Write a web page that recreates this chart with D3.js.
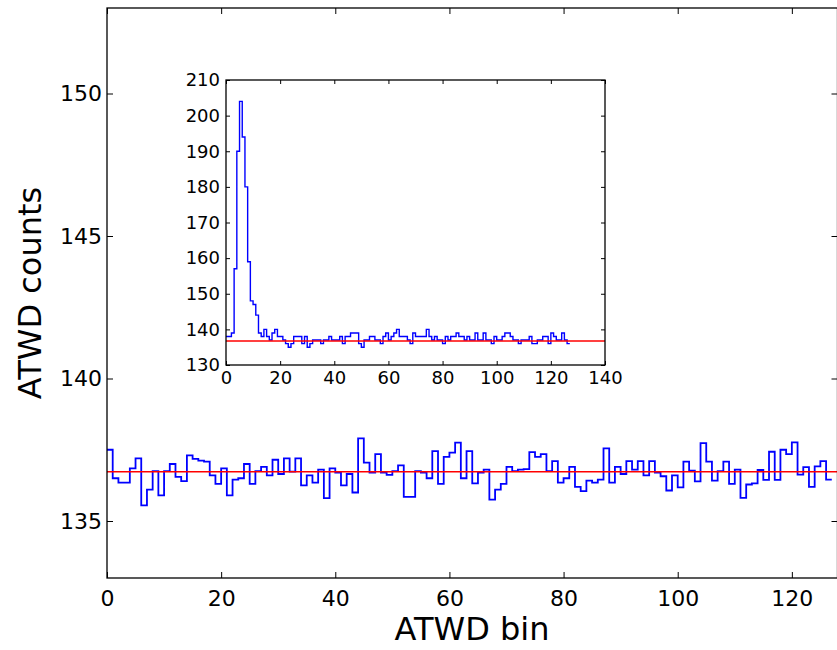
<!DOCTYPE html>
<html>
<head>
<meta charset="utf-8">
<script src="https://cdn.jsdelivr.net/npm/d3@7"></script>
<style>
  body { margin: 0; background: #fff; }
  svg { display: block; font-family: "DejaVu Sans", sans-serif; }
</style>
</head>
<body>
<div id="chart"></div>
<script>
// Moyenne des échantillons ATWD par bin (graphique principal)
const mainCounts = [
  137.5, 136.5, 136.35, 136.35, 136.85, 137.2, 135.55, 136.1, 136.75, 135.9,
  136.75, 137.0, 136.55, 136.4, 137.3, 137.18, 137.12, 137.08, 136.6, 136.3,
  136.85, 135.9, 136.45, 136.5, 137.0, 136.3, 136.75, 136.9, 136.6, 137.15,
  136.65, 137.2, 136.73, 137.2, 136.25, 136.6, 136.35, 136.8, 135.8, 136.85,
  136.7, 136.25, 136.65, 136.0, 137.9, 137.05, 136.7, 137.35, 136.7, 136.62,
  136.75, 136.95, 135.85, 135.85, 136.75, 136.7, 136.5, 137.45, 136.3, 137.25,
  137.4, 137.75, 136.5, 137.45, 136.32, 136.7, 136.8, 135.75, 136.1, 136.3,
  136.9, 136.75, 136.8, 136.82, 137.42, 137.25, 137.35, 136.75, 137.1, 136.35,
  136.5, 136.9, 136.2, 136.05, 136.42, 136.35, 136.45, 137.55, 136.35, 136.9,
  136.65, 137.1, 136.8, 137.1, 136.6, 137.1, 136.7, 136.57, 136.07, 136.6,
  136.18, 137.08, 136.77, 136.39, 137.73, 137.08, 136.42, 136.75, 137.08, 136.3,
  136.8, 135.81, 136.28, 136.32, 136.79, 136.44, 137.43, 136.44, 137.5, 137.35,
  137.76, 136.63, 136.89, 136.2, 136.92, 137.1, 136.45, 136.45
];

// Forme d'onde individuelle (encart)
const insetCounts = [
  138, 138, 139, 157, 190, 204, 194, 180, 159, 148,
  147, 144, 139, 138, 140, 138, 137, 139, 140, 138,
  138, 137, 136, 135, 136, 138, 138, 138, 136, 138,
  135, 136, 137, 137, 137, 136, 137, 137, 138, 137,
  137, 137, 138, 136, 138, 138, 139, 139, 139, 136,
  135, 137, 137, 138, 138, 137, 137, 136, 138, 139,
  137, 138, 139, 140, 138, 138, 138, 137, 136, 139,
  138, 138, 138, 138, 140, 138, 137, 138, 137, 137,
  136, 138, 137, 138, 138, 139, 138, 138, 137, 138,
  137, 137, 139, 137, 137, 139, 137, 137, 136, 138,
  137, 137, 138, 139, 139, 138, 137, 137, 136, 137,
  137, 137, 138, 136, 136, 137, 137, 138, 138, 136,
  139, 138, 137, 137, 139, 137, 136, 136
];

const baseline = 136.73;

const mainYTicks = [135, 140, 145, 150];
const mainXTicks = [0, 20, 40, 60, 80, 100, 120];
const insetYTicks = [130, 140, 150, 160, 170, 180, 190, 200, 210];
const insetXTicks = [0, 20, 40, 60, 80, 100, 120, 140];

const W = 837, H = 650;

const svg = d3.select("#chart")
    .append("svg")
    .attr("width", W)
    .attr("height", H);

// axes style matplotlib classique : graduations vers l'intérieur sur les 4 côtés
function drawFrame(g, x, y, xTicks, yTicks, fontSize, tickLen, padX, padY) {
    const [x0, x1] = x.range();
    const [y0, y1] = y.range(); // y0 = bas, y1 = haut

    g.append("g")
        .attr("transform", `translate(0,${y0})`)
        .call(d3.axisBottom(x).tickValues(xTicks).tickSizeInner(-tickLen).tickSizeOuter(0).tickPadding(padX))
        .call(a => a.select(".domain").remove());
    g.append("g")
        .attr("transform", `translate(0,${y1})`)
        .call(d3.axisTop(x).tickValues(xTicks).tickSizeInner(-tickLen).tickSizeOuter(0).tickFormat(""))
        .call(a => a.select(".domain").remove());
    g.append("g")
        .attr("transform", `translate(${x0},0)`)
        .call(d3.axisLeft(y).tickValues(yTicks).tickSizeInner(-tickLen).tickSizeOuter(0).tickPadding(padY))
        .call(a => a.select(".domain").remove());
    g.append("g")
        .attr("transform", `translate(${x1},0)`)
        .call(d3.axisRight(y).tickValues(yTicks).tickSizeInner(-tickLen).tickSizeOuter(0).tickFormat(""))
        .call(a => a.select(".domain").remove());

    g.selectAll(".tick line").attr("stroke", "#000").attr("stroke-width", 1);
    g.selectAll(".tick text")
        .attr("fill", "#000")
        .style("font-family", "'DejaVu Sans', sans-serif")
        .style("font-size", fontSize + "px");

    g.append("rect")
        .attr("x", x0).attr("y", y1)
        .attr("width", x1 - x0).attr("height", y0 - y1)
        .attr("fill", "none")
        .attr("stroke", "#000")
        .attr("stroke-width", 1.3);
}

// --- graphique principal ---
const x = d3.scaleLinear().domain([0, 128]).range([107, 837.5]);
const y = d3.scaleLinear().domain([133, 153]).range([578, 8]);

const idx = d3.range(mainCounts.length);

const mainLine = d3.line()
    .x(i => x(i))
    .y(i => y(mainCounts[i]))
    .curve(d3.curveStepAfter);

const main = svg.append("g");

main.append("path")
    .datum(idx)
    .attr("d", mainLine)
    .attr("fill", "none")
    .attr("stroke", "#0000ff")
    .attr("stroke-width", 1.8);

main.append("line")
    .attr("x1", x(0)).attr("x2", x(128))
    .attr("y1", y(baseline)).attr("y2", y(baseline))
    .attr("stroke", "#ff0000")
    .attr("stroke-width", 1.5);

drawFrame(main, x, y, mainXTicks, mainYTicks, 22, 6, 12, 5);

main.append("text")
    .attr("x", (107 + 837) / 2)
    .attr("y", 640)
    .attr("text-anchor", "middle")
    .style("font-size", "32px")
    .text("ATWD bin");

main.append("text")
    .attr("transform", `translate(41,${(8 + 578) / 2}) rotate(-90)`)
    .attr("text-anchor", "middle")
    .style("font-size", "32px")
    .text("ATWD counts");

// --- encart ---
const xi = d3.scaleLinear().domain([0, 140]).range([226, 605]);
const yi = d3.scaleLinear().domain([130, 210]).range([365, 80]);

const inset = svg.append("g");

inset.append("rect")
    .attr("x", 226).attr("y", 80)
    .attr("width", 605 - 226).attr("height", 365 - 80)
    .attr("fill", "#fff");

const insetLine = d3.line()
    .x(i => xi(i))
    .y(i => yi(insetCounts[i]))
    .curve(d3.curveStepAfter);

inset.append("path")
    .datum(d3.range(insetCounts.length))
    .attr("d", insetLine)
    .attr("fill", "none")
    .attr("stroke", "#0000ff")
    .attr("stroke-width", 1.4);

inset.append("line")
    .attr("x1", xi(0)).attr("x2", xi(140))
    .attr("y1", yi(baseline)).attr("y2", yi(baseline))
    .attr("stroke", "#ff0000")
    .attr("stroke-width", 1.3);

drawFrame(inset, xi, yi, insetXTicks, insetYTicks, 18, 4, 6, 6);
</script>
</body>
</html>
